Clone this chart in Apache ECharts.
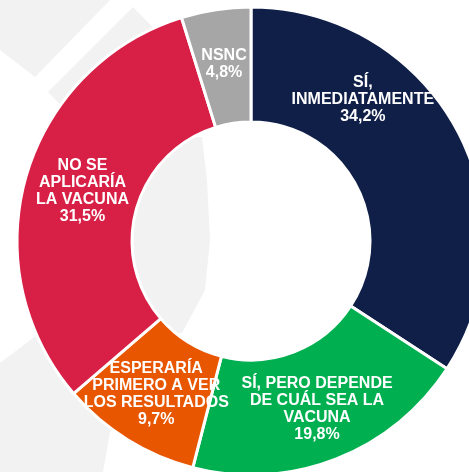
<!DOCTYPE html>
<html>
<head>
<meta charset="utf-8">
<script src="https://cdn.jsdelivr.net/npm/echarts@6/dist/echarts.min.js"></script>
<style>
html,body{margin:0;padding:0;background:#fff;}
#c{width:469px;height:472px;}
</style>
</head>
<body>
<div id="c"></div>
<script>
const categories = ['SÍ,\nINMEDIATAMENTE', 'SÍ, PERO DEPENDE\nDE CUÁL SEA LA\nVACUNA', 'ESPERARÍA\nPRIMERO A VER\nLOS RESULTADOS', 'NO SE\nAPLICARÍA\nLA VACUNA', 'NSNC'];
const values = [34.2, 19.8, 9.7, 31.5, 4.8];
const colors = ['#101f48', '#00b050', '#e85600', '#d81f45', '#a6a6a6'];
const labelOffsets = [[-46, -56], [1, 1], [0, 1], [4, 0], [0, 1]];

const chart = echarts.init(document.getElementById('c'), null, {renderer: 'canvas'});
const wm = '#f2f2f2';
chart.setOption({
  animation: false,
  backgroundColor: '#ffffff',
  graphic: [
    {type: 'polygon', z: -10, shape: {points: [[0,0],[110,0],[35,77],[0,50]]}, style: {fill: wm}},
    {type: 'polygon', z: -10, shape: {points: [[133,7],[170,45],[85,130],[48,92]]}, style: {fill: wm}},
    {type: 'polygon', z: -10, shape: {points: [[0,363],[33,338],[60,322],[120,420],[110,432],[103,472],[0,472]]}, style: {fill: wm}},
    {type: 'polygon', z: -10, shape: {points: [[202,137],[207,180],[210,240],[205,290],[182,333],[120,333],[120,137]]}, style: {fill: wm}}
  ],
  series: [{
    type: 'pie',
    center: [251, 241],
    radius: [119, 234],
    startAngle: 90,
    clockwise: true,
    avoidLabelOverlap: false,
    emphasis: {disabled: true},
    itemStyle: {borderColor: '#ffffff', borderWidth: 3},
    label: {
      show: true,
      position: 'inside',
      color: '#ffffff',
      fontFamily: 'Arial, "Liberation Sans", sans-serif',
      fontWeight: 'bold',
      fontSize: 16,
      lineHeight: 17,
      align: 'center',
      formatter: p => p.name + '\n' + String(p.value).replace('.', ',') + '%'
    },
    labelLine: {show: false},
    data: categories.map((n, i) => ({
      name: n,
      value: values[i],
      itemStyle: {color: colors[i]},
      label: {offset: labelOffsets[i]}
    }))
  }]
});
</script>
</body>
</html>
